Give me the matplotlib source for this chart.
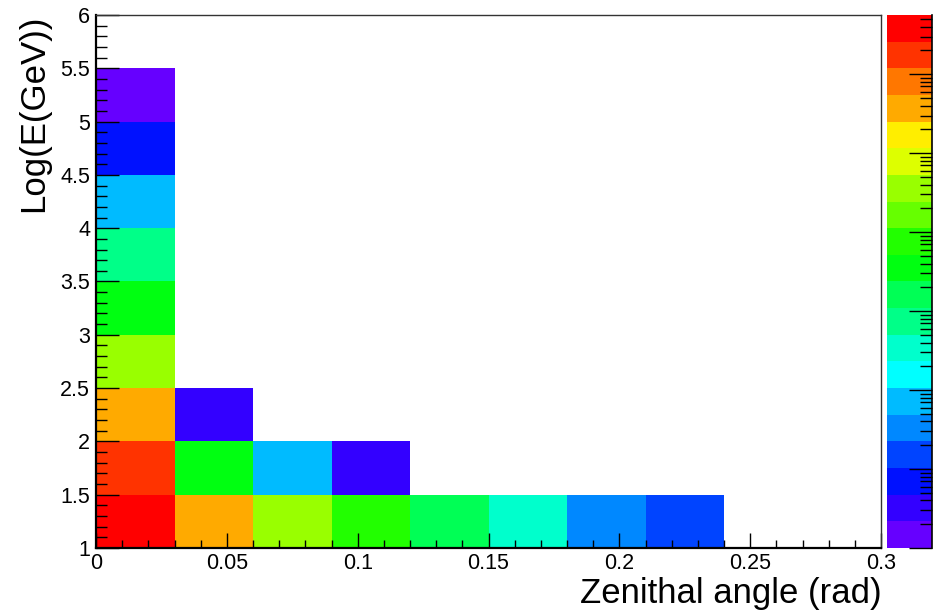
import numpy as np
import matplotlib
matplotlib.use("Agg")
from matplotlib import pyplot
from matplotlib.colors import ListedColormap, BoundaryNorm
from matplotlib.ticker import MultipleLocator, LogLocator, NullFormatter

pyplot.rcParams['font.family'] = ['Liberation Sans', 'DejaVu Sans']

# bin edges of the 2D histogram
x_edges = [0.0, 0.03, 0.06, 0.09, 0.12, 0.15, 0.18, 0.21, 0.24, 0.27, 0.30]
y_edges = [1.0, 1.5, 2.0, 2.5, 3.0, 3.5, 4.0, 4.5, 5.0, 5.5, 6.0]

# bin contents, one list per Log(E) row (bottom row first), 0 = empty
row_1_0 = [3800000, 370000, 36000, 7600, 1600, 340, 33, 15, 0, 0]
row_1_5 = [1700000, 3500, 72, 3, 0, 0, 0, 0, 0, 0]
row_2_0 = [370000, 3, 0, 0, 0, 0, 0, 0, 0, 0]
row_2_5 = [36000, 0, 0, 0, 0, 0, 0, 0, 0, 0]
row_3_0 = [3500, 0, 0, 0, 0, 0, 0, 0, 0, 0]
row_3_5 = [740, 0, 0, 0, 0, 0, 0, 0, 0, 0]
row_4_0 = [72, 0, 0, 0, 0, 0, 0, 0, 0, 0]
row_4_5 = [7, 0, 0, 0, 0, 0, 0, 0, 0, 0]
row_5_0 = [2, 0, 0, 0, 0, 0, 0, 0, 0, 0]
row_5_5 = [0, 0, 0, 0, 0, 0, 0, 0, 0, 0]

# z axis (log) range and palette, 20 contours
z_min, z_max = 1.0, 10 ** 6.75
palette = ['#6600ff', '#3300ff', '#0011ff', '#0044ff', '#0088ff',
           '#00bbff', '#00ffff', '#00ffcc', '#00ff88', '#00ff55',
           '#00ff11', '#22ff00', '#66ff00', '#99ff00', '#ddff00',
           '#ffee00', '#ffaa00', '#ff7700', '#ff3300', '#ff0000']

counts = np.array([row_1_0, row_1_5, row_2_0, row_2_5, row_3_0,
                   row_3_5, row_4_0, row_4_5, row_5_0, row_5_5], dtype=float)
counts = np.ma.masked_less_equal(counts, 0)

levels = np.logspace(np.log10(z_min), np.log10(z_max), len(palette) + 1)
cmap = ListedColormap(palette)
norm = BoundaryNorm(levels, len(palette))

fig = pyplot.figure(figsize=(9.36, 6.14), dpi=100)
W, H = 936., 614.
ax = fig.add_axes([96 / W, 1 - 548 / H, (881 - 96) / W, (548 - 15) / H])

ax.pcolormesh(x_edges, y_edges, counts, cmap=cmap, norm=norm)
ax.set_xlim(0, 0.3)
ax.set_ylim(1, 6)

ax.xaxis.set_major_locator(MultipleLocator(0.05))
ax.xaxis.set_minor_locator(MultipleLocator(0.01))
ax.yaxis.set_major_locator(MultipleLocator(0.5))
ax.yaxis.set_minor_locator(MultipleLocator(0.1))
ax.xaxis.set_major_formatter(matplotlib.ticker.FuncFormatter(lambda v, p: ('%g' % round(v, 4))))
ax.yaxis.set_major_formatter(matplotlib.ticker.FuncFormatter(lambda v, p: ('%g' % round(v, 4))))

ax.tick_params(axis='x', which='major', direction='in', length=11, width=1, pad=3.5, labelsize=15.5)
ax.tick_params(axis='x', which='minor', direction='in', length=5.5, width=1)
ax.tick_params(axis='y', which='major', direction='in', length=16.5, width=1, pad=4.3, labelsize=15.5)
ax.tick_params(axis='y', which='minor', direction='in', length=8, width=1)

for s in ['left', 'bottom']:
	ax.spines[s].set_linewidth(1.6)
	ax.spines[s].set_color('black')
for s in ['top', 'right']:
	ax.spines[s].set_linewidth(1.0)
	ax.spines[s].set_color('#333333')

fig.text(34 / W, 1 - 15 / H, "Log(E(GeV))", rotation=90, ha='center', va='top', fontsize=25)
fig.text(882 / W, 1 - 603 / H, "Zenithal angle (rad)", ha='right', va='baseline', fontsize=25)

# palette axis
cax = fig.add_axes([887 / W, 1 - 548 / H, (932 - 887) / W, (548 - 15) / H])
cax.pcolormesh([0, 1], levels, np.array(levels[:-1]).reshape(-1, 1) * 1.0001, cmap=cmap, norm=norm)
cax.set_yscale('log')
cax.set_ylim(z_min, z_max)
cax.set_xlim(0, 1)
cax.set_xticks([])
cax.yaxis.set_ticks_position('right')
cax.yaxis.set_major_locator(LogLocator(base=10))
cax.yaxis.set_minor_locator(LogLocator(base=10, subs=np.arange(2, 10)))
cax.yaxis.set_major_formatter(NullFormatter())
cax.yaxis.set_minor_formatter(NullFormatter())
cax.tick_params(axis='y', which='major', direction='in', length=16.5, width=1)
cax.tick_params(axis='y', which='minor', direction='in', length=8.5, width=1)
for s in ['left', 'top', 'bottom']:
	cax.spines[s].set_visible(False)
cax.spines['right'].set_linewidth(1.2)

pyplot.savefig("out.png", dpi=100)
